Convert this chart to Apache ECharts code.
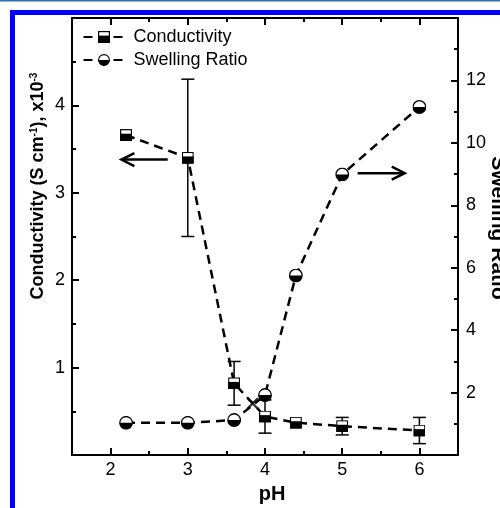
<!DOCTYPE html>
<html>
<head>
<meta charset="utf-8">
<title>Conductivity / Swelling Ratio vs pH</title>
<script src="https://cdn.jsdelivr.net/npm/echarts@6.0.0/dist/echarts.min.js"></script>
<style>
  html, body { margin: 0; padding: 0; background: #fff; }
  #chart { width: 500px; height: 508px; }
</style>
</head>
<body>
<div id="chart"></div>
<script>
// data
var phRange = [1.5, 6.5];
var condRange = [0, 5];          // x10^-3 S cm^-1
var swellRange = [0, 14];

var condPH = [2.2, 3, 3.6, 4, 4.4, 5, 6];
var conductivity = [3.66, 3.40, 0.82, 0.44, 0.37, 0.33, 0.28];
var condErr = [0, 0.90, 0.25, 0.19, 0, 0.10, 0.15];

var swellPH = [2.2, 3, 3.6, 4, 4.4, 5, 6];
var swelling = [1.03, 1.03, 1.12, 1.92, 5.75, 8.99, 11.15];

// arrows: [tail x, tail y, tip x, tip y]
var leftArrow = [[2.74, 3.38, 2.14, 3.38]];    // left axis units
var rightArrow = [[5.20, 9.03, 5.81, 9.03]];   // right axis units
var crossMark = [[3.84, 0.59]];

var FONT = "'Liberation Sans', Arial, sans-serif";

function svgSymbol(svg) {
    return 'image://data:image/svg+xml;charset=utf-8,' + encodeURIComponent(svg);
}
var squareSym = svgSymbol("<svg xmlns='http://www.w3.org/2000/svg' width='12' height='12' viewBox='0 0 12 12'>" +
    "<rect x='0.6' y='0.6' width='10.8' height='10.8' fill='#fff' stroke='#000' stroke-width='1.2'/>" +
    "<rect x='0' y='4.6' width='12' height='7.4' fill='#000'/></svg>");
var circleSym = svgSymbol("<svg xmlns='http://www.w3.org/2000/svg' width='14' height='14' viewBox='0 0 14 14'>" +
    "<circle cx='7' cy='7' r='6.3' fill='#fff' stroke='#000' stroke-width='1.3'/>" +
    "<path d='M0.7,7 A6.3,6.3 0 0 0 13.3,7 Z' fill='#000'/></svg>");
var crossSym = 'path://M0,1.6 L1.6,0 L6,4.4 L10.4,0 L12,1.6 L7.6,6 L12,10.4 L10.4,12 L6,7.6 L1.6,12 L0,10.4 L4.4,6 Z';

var errData = [];
condPH.forEach(function (x, i) {
    if (condErr[i] > 0) errData.push([x, conductivity[i] - condErr[i], conductivity[i] + condErr[i]]);
});

function renderErrorBar(params, api) {
    var x = api.value(0);
    var top = api.coord([x, api.value(2)]);
    var bot = api.coord([x, api.value(1)]);
    var half = 6.5;
    var st = { stroke: '#000', lineWidth: 1.5 };
    return {
        type: 'group',
        children: [
            { type: 'line', shape: { x1: top[0], y1: top[1], x2: bot[0], y2: bot[1] }, style: st },
            { type: 'line', shape: { x1: top[0] - half, y1: top[1], x2: top[0] + half, y2: top[1] }, style: st },
            { type: 'line', shape: { x1: bot[0] - half, y1: bot[1], x2: bot[0] + half, y2: bot[1] }, style: st }
        ]
    };
}

// shaft plus an open arrow head
function renderArrow(params, api) {
    var a = api.coord([api.value(0), api.value(1)]);
    var b = api.coord([api.value(2), api.value(3)]);
    var dx = b[0] - a[0], dy = b[1] - a[1];
    var len = Math.sqrt(dx * dx + dy * dy) || 1;
    var ux = dx / len, uy = dy / len;
    var headLen = 13, headHalf = 6.5;
    var bx = b[0] - ux * headLen, by = b[1] - uy * headLen;
    var st = { stroke: '#000', lineWidth: 2.5, fill: null, lineJoin: 'miter' };
    return {
        type: 'group',
        children: [
            { type: 'line', shape: { x1: a[0], y1: a[1], x2: b[0] - ux * 1.5, y2: b[1] - uy * 1.5 }, style: st },
            {
                type: 'polyline',
                shape: { points: [[bx - uy * headHalf, by + ux * headHalf], [b[0], b[1]], [bx + uy * headHalf, by - ux * headHalf]] },
                style: st
            }
        ]
    };
}

var axisLineStyle = { color: '#000', width: 2 };

function xAxisDef(pos, major) {
    var a = {
        type: 'value',
        position: pos,
        min: phRange[0],
        max: phRange[1],
        axisLine: { show: major, lineStyle: axisLineStyle },
        axisTick: { inside: true, length: major ? 7 : 4, lineStyle: { color: '#000', width: 2 } },
        axisLabel: { show: false },
        splitLine: { show: false }
    };
    if (major) {
        a.minInterval = 1;
        a.maxInterval = 1;
    } else {
        a.interval = 0.5;
    }
    if (major && pos === 'bottom') {
        a.axisLabel = {
            show: true, color: '#000', fontSize: 18, fontFamily: FONT, margin: 6,
            showMinLabel: false, showMaxLabel: false
        };
    }
    return a;
}

var myChart = echarts.init(document.getElementById('chart'));

var option = {
    animation: false,
    backgroundColor: '#fff',
    grid: { left: 72, top: 18, width: 386, height: 437, containLabel: false },
    legend: {
        data: ['Conductivity', 'Swelling Ratio'],
        orient: 'vertical',
        left: 82.5,
        top: 28,
        padding: 0,
        itemWidth: 41,
        itemHeight: 15,
        itemGap: 5,
        selectedMode: false,
        textStyle: { color: '#000', fontSize: 18, fontFamily: FONT, padding: [0, 0, 0, 4] }
    },
    xAxis: [
        xAxisDef('bottom', true),
        xAxisDef('bottom', false),
        xAxisDef('top', true),
        xAxisDef('top', false)
    ],
    yAxis: [
        {
            type: 'value',
            position: 'left',
            min: condRange[0],
            max: condRange[1],
            interval: 1,
            axisLine: { show: true, lineStyle: axisLineStyle },
            axisTick: { inside: true, length: 7, lineStyle: { color: '#000', width: 2 } },
            minorTick: { show: true, splitNumber: 2, length: 4, lineStyle: { color: '#000', width: 2 } },
            axisLabel: { color: '#000', fontSize: 18, fontFamily: FONT, margin: 7, showMinLabel: false, showMaxLabel: false },
            splitLine: { show: false }
        },
        {
            type: 'value',
            position: 'right',
            min: swellRange[0],
            max: swellRange[1],
            interval: 2,
            axisLine: { show: true, lineStyle: axisLineStyle },
            axisTick: { inside: true, length: 7, lineStyle: { color: '#000', width: 2 } },
            minorTick: { show: true, splitNumber: 2, length: 4, lineStyle: { color: '#000', width: 2 } },
            axisLabel: { color: '#000', fontSize: 18, fontFamily: FONT, margin: 8, showMinLabel: false, showMaxLabel: false },
            splitLine: { show: false }
        }
    ],
    graphic: [
        { type: 'rect', shape: { x: 0, y: 0, width: 500, height: 1.5 }, style: { fill: '#2f6db5' }, silent: true },
        { type: 'rect', shape: { x: 10, y: 10, width: 490, height: 5 }, style: { fill: '#0000fe' }, silent: true },
        { type: 'rect', shape: { x: 10, y: 10, width: 5, height: 498 }, style: { fill: '#0000fe' }, silent: true },
        {
            type: 'text', x: 38, y: 186, rotation: Math.PI / 2, silent: true,
            style: {
                text: 'Conductivity (S cm{sup|-1}), x10{sup|-3}',
                fontSize: 18, fontWeight: 'bold', fontFamily: FONT, fill: '#000',
                align: 'center', verticalAlign: 'middle',
                rich: { sup: { fontSize: 10, fontWeight: 'bold', fontFamily: FONT, verticalAlign: 'top' } }
            }
        },
        {
            type: 'text', x: 498, y: 228, rotation: -Math.PI / 2, silent: true,
            style: {
                text: 'Swelling Ratio', fontSize: 21, fontWeight: 'bold', fontFamily: FONT, fill: '#000',
                align: 'center', verticalAlign: 'middle'
            }
        },
        {
            type: 'text', x: 272, y: 494, silent: true,
            style: {
                text: 'pH', fontSize: 20, fontWeight: 'bold', fontFamily: FONT, fill: '#000',
                align: 'center', verticalAlign: 'middle'
            }
        }
    ],
    series: [
        {
            name: 'errors',
            type: 'custom',
            xAxisIndex: 0,
            yAxisIndex: 0,
            z: 2,
            silent: true,
            renderItem: renderErrorBar,
            data: errData
        },
        {
            name: 'arrowLeft',
            type: 'custom',
            xAxisIndex: 0,
            yAxisIndex: 0,
            z: 2,
            silent: true,
            renderItem: renderArrow,
            data: leftArrow
        },
        {
            name: 'arrowRight',
            type: 'custom',
            xAxisIndex: 0,
            yAxisIndex: 1,
            z: 2,
            silent: true,
            renderItem: renderArrow,
            data: rightArrow
        },
        {
            name: 'Conductivity',
            type: 'line',
            xAxisIndex: 0,
            yAxisIndex: 0,
            z: 3,
            data: condPH.map(function (x, i) { return [x, conductivity[i]]; }),
            symbol: squareSym,
            symbolSize: 12,
            showAllSymbol: true,
            color: '#000',
            lineStyle: { color: '#000', width: 2.5, type: [9, 6] }
        },
        {
            name: 'Swelling Ratio',
            type: 'line',
            xAxisIndex: 0,
            yAxisIndex: 1,
            z: 3,
            data: swellPH.map(function (x, i) { return [x, swelling[i]]; }),
            symbol: circleSym,
            symbolSize: 14,
            showAllSymbol: true,
            color: '#000',
            lineStyle: { color: '#000', width: 2.5, type: [9, 6] }
        },
        {
            name: 'cross',
            type: 'scatter',
            xAxisIndex: 0,
            yAxisIndex: 0,
            z: 3,
            silent: true,
            symbol: crossSym,
            symbolSize: 12,
            itemStyle: { color: '#000' },
            data: crossMark
        }
    ]
};

myChart.setOption(option);
window.addEventListener('resize', function () {
    myChart.resize();
});
</script>
</body>
</html>
